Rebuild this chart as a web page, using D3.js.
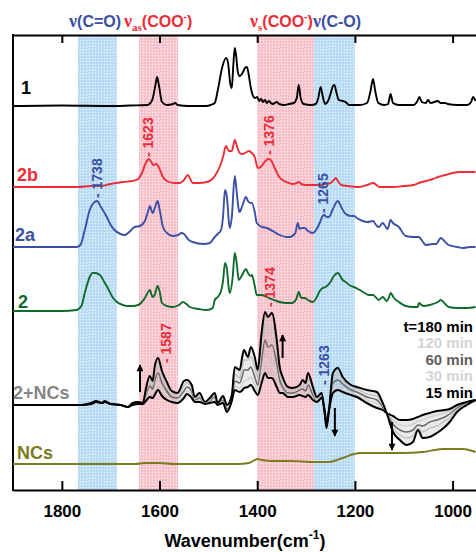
<!DOCTYPE html>
<html>
<head>
<meta charset="utf-8">
<script src="https://cdn.jsdelivr.net/npm/d3@7"></script>
<style>
  body { margin: 0; background: #fff; }
  text { font-family: "Liberation Sans", Arial, sans-serif; font-weight: bold; }
</style>
</head>
<body>
<svg id="chart"></svg>
<script>
var width = 476, height = 552;

// stacked FTIR spectra, [wavenumber, absorbance (a.u.)]
var spec1 = [[1900,0],[1800,0.5],[1700,0],[1660,0.5],[1625,1],[1615,6],[1608,22],[1605,29],[1601,20],[1595,4],[1585,1],[1572,2],[1568,3],[1563,1],[1540,0],[1505,0],[1495,1],[1487,3],[1481,15],[1472,38],[1464,48],[1460,44],[1455,22],[1452,18],[1449,40],[1446,58],[1443,50],[1440,35],[1436,30],[1430,33],[1425,38],[1421,39],[1417,30],[1413,18],[1410,12],[1405,8],[1400,9],[1396,5],[1392,7],[1388,4],[1384,6],[1380,3],[1376,5],[1372,3],[1368,2],[1360,4],[1355,2],[1345,1],[1335,2],[1325,3],[1319,8],[1315,21],[1311,8],[1305,2],[1290,1],[1280,2],[1275,8],[1270,19],[1266,10],[1261,2],[1255,5],[1250,12],[1245,20],[1242,21],[1238,14],[1233,6],[1225,5],[1219,4],[1212,1],[1190,1],[1175,3],[1168,15],[1163,27],[1158,14],[1152,3],[1140,1],[1132,2],[1127,12],[1122,3],[1110,1],[1080,1],[1072,5],[1068,9],[1063,4],[1055,3],[1050,6],[1045,3],[1030,5],[1025,3],[1015,3],[1010,2],[990,1],[970,1],[962,4],[958,9],[953,5]];

var spec2b = [[1900,0],[1800,0],[1767,0],[1740,1],[1722,1],[1700,3],[1675,5],[1655,6],[1644,8],[1636,14],[1628,24],[1622,28],[1617,25],[1612,22],[1606,23],[1600,18],[1593,10],[1585,6],[1570,4],[1558,4],[1550,7],[1542,12],[1537,8],[1532,4],[1520,4],[1503,5],[1492,8],[1483,14],[1477,20],[1470,30],[1464,41],[1458,36],[1452,36],[1446,47],[1441,40],[1436,34],[1430,33],[1421,35],[1417,36],[1411,34],[1405,30],[1399,19],[1393,20],[1385,25],[1378,28],[1372,27],[1365,20],[1355,10],[1345,6],[1335,4],[1327,3],[1320,4],[1315,5],[1310,3],[1300,2],[1280,2],[1270,2],[1262,3],[1250,4],[1243,7],[1239,9],[1235,6],[1228,2],[1215,1],[1192,0],[1175,2],[1162,4],[1156,2],[1150,0],[1120,0],[1100,1],[1080,2],[1069,4],[1055,6],[1040,8],[1030,10],[1015,12],[1000,14],[985,15],[965,15],[953,15]];

var spec2a = [[1900,0],[1800,0],[1770,0],[1762,2],[1753,17],[1743,37],[1735,44],[1728,46],[1720,40],[1708,30],[1700,22],[1692,17],[1680,13],[1671,12],[1662,15],[1651,20],[1640,21],[1630,26],[1622,38],[1620,41],[1614,34],[1609,40],[1604,46],[1600,38],[1593,20],[1585,14],[1573,11],[1562,12],[1555,14],[1550,13],[1540,7],[1532,5],[1510,3],[1497,4],[1487,10],[1481,13],[1474,17],[1470,30],[1466,57],[1462,50],[1458,25],[1456,19],[1452,30],[1446,71],[1442,55],[1438,38],[1436,35],[1430,42],[1423,50],[1419,46],[1413,44],[1411,44],[1405,35],[1401,24],[1390,20],[1380,19],[1365,15],[1354,12],[1340,10],[1333,10],[1322,14],[1317,24],[1313,18],[1309,19],[1303,19],[1296,16],[1286,14],[1276,20],[1272,24],[1266,31],[1262,32],[1258,30],[1253,30],[1245,38],[1235,46],[1228,40],[1219,33],[1208,31],[1202,31],[1196,29],[1184,26],[1174,25],[1163,26],[1155,21],[1151,20],[1143,24],[1138,21],[1133,18],[1127,27],[1122,24],[1110,20],[1096,11],[1080,10],[1069,10],[1062,6],[1055,2],[1040,3],[1034,3],[1024,9],[1015,5],[1008,2],[990,0],[979,-1],[965,0],[953,0]];

var spec2 = [[1900,0],[1800,0],[1770,1],[1760,5],[1753,18],[1743,34],[1737,38],[1732,38],[1722,36],[1712,28],[1706,23],[1695,13],[1687,9],[1675,6],[1667,5],[1655,5],[1644,6],[1636,9],[1630,13],[1622,20],[1620,21],[1614,14],[1610,16],[1604,25],[1600,20],[1595,8],[1585,5],[1573,4],[1560,6],[1552,9],[1545,7],[1538,4],[1520,2],[1503,1],[1491,3],[1487,11],[1481,14],[1474,20],[1470,30],[1466,48],[1462,42],[1458,22],[1456,18],[1450,35],[1446,58],[1442,48],[1438,31],[1432,35],[1423,42],[1419,38],[1413,35],[1411,36],[1405,25],[1401,16],[1391,16],[1376,13],[1360,10],[1354,9],[1340,8],[1329,8],[1320,12],[1315,19],[1311,14],[1307,13],[1303,13],[1296,11],[1286,9],[1278,14],[1272,20],[1266,23],[1260,24],[1250,29],[1243,35],[1235,38],[1225,31],[1219,29],[1208,25],[1202,24],[1190,21],[1180,18],[1172,16],[1163,16],[1151,11],[1143,14],[1135,10],[1130,14],[1127,18],[1120,13],[1110,9],[1096,5],[1081,4],[1071,4],[1069,8],[1060,5],[1047,6],[1030,9],[1024,11],[1015,7],[1008,4],[990,3],[970,3],[953,4]];

var specNCs = [[1900,0],[1800,0],[1700,0],[1650,0],[1630,1],[1600,1],[1570,0],[1500,0],[1440,0],[1417,1],[1399,5],[1390,4],[1370,3],[1330,3],[1285,2],[1253,2],[1225,6],[1202,10],[1190,11],[1174,11],[1102,11],[1061,12],[1020,15],[979,15],[953,12]];

// 2+NCs time series
var ncWn = [1900,1850,1800,1760,1740,1730,1718,1712,1700,1680,1665,1655,1644,1634,1628,1620,1614,1610,1603,1595,1585,1575,1563,1550,1544,1534,1528,1518,1507,1497,1487,1481,1470,1462,1452,1446,1436,1430,1427,1419,1413,1405,1399,1391,1384,1378,1370,1360,1354,1348,1337,1327,1313,1307,1301,1296,1286,1278,1268,1262,1258,1253,1245,1235,1225,1208,1196,1176,1155,1143,1135,1122,1108,1094,1081,1071,1061,1047,1032,1016,1006,991,971,953];
var t15  = [0,0,0,0,1,3,2,3,1,0,-2,0,1,1,4,8,7,10,15,9,5,3,2,7,11,7,3,3,1,2,3,0,2,-7,4,15,13,15,17,18,20,14,10,22,32,27,27,18,12,12,8,8,10,9,8,10,5,3,7,-5,-18,-5,12,15,13,10,8,2,-3,-5,-8,-11,-15,-15,-14,-12,-10,-8,-6,-5,-4,0,3,5];
var t30  = [0,0,0,0,1,3,2,3,1,0,-2,1,2,1,7,13,11,16,23,15,9,5,4,10,14,10,4,5,1,3,5,0,3,-6,4,19,17,21,24,25,28,20,14,32,46,40,40,28,18,14,10,9,11,12,10,14,7,3,7,-6,-19,-5,16,19,16,12,10,5,1,-4,-8,-15,-20,-21,-19,-16,-15,-12,-10,-8,-6,-1,3,5];
var t60  = [0,0,0,0,2,3,2,3,1,0,-2,1,3,2,10,19,16,24,32,22,14,8,7,14,18,13,5,7,2,4,8,1,5,-4,5,24,22,30,35,35,38,28,20,45,65,58,60,42,25,18,12,12,15,16,14,20,10,4,8,-7,-20,-5,22,25,21,15,13,8,5,-2,-8,-19,-25,-27,-25,-20,-21,-17,-15,-12,-9,-3,2,5];
var t120 = [0,0,0,0,2,3,2,3,1,0,-2,2,3,2,13,24,20,31,40,28,18,11,9,19,22,16,6,9,2,5,10,1,7,-2,8,31,27,40,45,45,48,38,28,58,82,75,78,55,32,22,15,14,17,20,18,26,14,5,10,-8,-21,-5,27,31,25,17,16,11,9,0,-8,-23,-30,-33,-31,-23,-27,-23,-21,-16,-13,-5,1,5];
var t180 = [0,0,0,0,2,4,2,4,1,0,-2,2,3,2,16,29,24,38,47,34,23,14,12,24,25,20,8,12,3,7,12,2,9,0,10,38,35,50,55,48,58,48,35,72,93,88,92,65,38,28,18,17,20,25,22,32,18,8,12,-8,-23,-5,32,37,28,20,18,15,13,2,-8,-27,-35,-40,-37,-25,-33,-32,-28,-22,-17,-7,0,5];

var timeLabels = ["t=180 min", "120 min", "60 min", "30 min", "15 min"];
var tickValues = [1800, 1600, 1400, 1200, 1000];

// vertical stacking offsets (a.u.)
var stackOffset = { s1: 384, s2b: 303, s2a: 243, s2: 179, nc: 85, ncs: 26 };

// assignment bands [from, to]
var bands = [
  {from: 1767, to: 1687, kind: "blue"},
  {from: 1642, to: 1562, kind: "pink"},
  {from: 1400, to: 1284, kind: "pink"},
  {from: 1284, to: 1200, kind: "blue"}
];

var peakLabels = [
  {text: "- 1738", wn: 1728, v: 292, c: "blue"},
  {text: "- 1623", wn: 1623, v: 333, c: "red"},
  {text: "- 1376", wn: 1376, v: 335, c: "red"},
  {text: "- 1265", wn: 1265, v: 277, c: "blue"},
  {text: "- 1587", wn: 1587, v: 127, c: "red"},
  {text: "- 1374", wn: 1374, v: 183, c: "red"},
  {text: "- 1263", wn: 1263, v: 105, c: "blue"}
];

// arrows: wavenumber, from, to
var arrows = [[1640, 98, 125], [1348, 132, 155], [1241, 82, 54], [1124, 68, 40]];

var RED = "#ec2d38", BLUE = "#3b4fa5", GREEN = "#0f6a2c", OLIVE = "#7b7b20", GRAY = "#858585";
var colorOf = { red: RED, blue: BLUE };

var svg = d3.select("#chart").attr("width", width).attr("height", height);

var x = d3.scaleLinear().domain([1900, 950]).range([13, 477]);
var y = d3.scaleLinear().domain([0, 455]).range([490, 35]);

var defs = svg.append("defs");
function makePattern(id, base, dark, light) {
  var p = defs.append("pattern").attr("id", id).attr("width", 3).attr("height", 3)
    .attr("patternUnits", "userSpaceOnUse");
  p.append("rect").attr("width", 3).attr("height", 3).attr("fill", base);
  p.append("rect").attr("width", 1).attr("height", 1).attr("fill", dark);
  p.append("rect").attr("x", 2).attr("y", 1).attr("width", 1).attr("height", 1).attr("fill", light);
  p.append("rect").attr("x", 1).attr("y", 2).attr("width", 1).attr("height", 1).attr("fill", dark);
}
makePattern("pblue", "#c3e1f6", "#a9d2ef", "#e2f0fa");
makePattern("ppink", "#f9cbd3", "#f3b1bd", "#fde5e9");

// arrow head pointing along the line direction
defs.append("marker").attr("id", "ah").attr("viewBox", "0 0 10 10")
  .attr("refX", 9).attr("refY", 5).attr("markerWidth", 10).attr("markerHeight", 7)
  .attr("markerUnits", "userSpaceOnUse").attr("orient", "auto")
  .append("path").attr("d", "M0,0 L10,5 L0,10 Z").attr("fill", "#000");

// bands
svg.append("g").selectAll("rect").data(bands).enter().append("rect")
  .attr("x", d => x(d.from)).attr("width", d => x(d.to) - x(d.from))
  .attr("y", y(455)).attr("height", y(0) - y(455))
  .attr("fill", d => d.kind == "blue" ? "url(#pblue)" : "url(#ppink)");

// axes
var bottom = svg.append("g").attr("transform", "translate(0," + y(0) + ")")
  .call(d3.axisBottom(x).tickValues(tickValues).tickFormat(d3.format("d"))
    .tickSizeInner(-9).tickSizeOuter(0).tickPadding(15));
bottom.selectAll("text").attr("font-size", 17).attr("fill", "#000");
var top = svg.append("g").attr("transform", "translate(0," + y(455) + ")")
  .call(d3.axisTop(x).tickValues(tickValues).tickSizeInner(-8).tickSizeOuter(0).tickFormat(""));
svg.selectAll(".domain").attr("stroke-width", 2);
svg.selectAll(".tick line").attr("stroke-width", 2);
svg.append("line").attr("x1", 13).attr("x2", 13).attr("y1", y(455) - 1).attr("y2", y(0) + 1)
  .attr("stroke", "#000").attr("stroke-width", 2);

function lineFor(off) {
  return d3.line().x(d => x(d[0])).y(d => y(d[1] + off)).curve(d3.curveMonotoneX);
}

var spectra = [
  {data: spec1, off: stackOffset.s1, c: "#000"},
  {data: spec2b, off: stackOffset.s2b, c: RED},
  {data: spec2a, off: stackOffset.s2a, c: BLUE},
  {data: spec2, off: stackOffset.s2, c: GREEN},
  {data: specNCs, off: stackOffset.ncs, c: OLIVE}
];
spectra.forEach(function(s) {
  svg.append("path").attr("d", lineFor(s.off)(s.data))
    .attr("fill", "none").attr("stroke", s.c).attr("stroke-width", 1.9)
    .attr("stroke-linejoin", "round");
});

// 2+NCs time-resolved set
var ncSets = [t15, t30, t60, t120, t180].map(function(arr) {
  return ncWn.map((w, i) => [w, arr[i]]);
});
var ncArea = d3.area().x(d => x(d[0]))
  .y0((d, i) => y(t15[i] + stackOffset.nc)).y1(d => y(d[1] + stackOffset.nc))
  .curve(d3.curveMonotoneX);
svg.append("path").attr("d", ncArea(ncSets[4])).attr("fill", "#8a8a8a").attr("fill-opacity", 0.18);
var ncStyle = [
  {i: 1, c: "#d2d2d2", w: 1.5},
  {i: 2, c: "#6a6a6a", w: 1.5},
  {i: 3, c: "#c4c4c4", w: 1.5},
  {i: 0, c: "#000", w: 2},
  {i: 4, c: "#000", w: 2}
];
ncStyle.forEach(function(s) {
  svg.append("path").attr("d", lineFor(stackOffset.nc)(ncSets[s.i]))
    .attr("fill", "none").attr("stroke", s.c).attr("stroke-width", s.w)
    .attr("stroke-linejoin", "round");
});

// arrows
svg.append("g").selectAll("line").data(arrows).enter().append("line")
  .attr("x1", d => x(d[0])).attr("x2", d => x(d[0]))
  .attr("y1", d => y(d[1])).attr("y2", d => y(d[2]))
  .attr("stroke", "#000").attr("stroke-width", 2).attr("marker-end", "url(#ah)");

// peak labels (rotated)
svg.append("g").selectAll("text").data(peakLabels).enter().append("text")
  .attr("transform", d => "translate(" + (x(d.wn) + 5) + "," + y(d.v) + ") rotate(-90)")
  .attr("font-size", 14).attr("fill", d => colorOf[d.c]).text(d => d.text);

// series names
var names = [
  {t: "1", x: 21, y: 94, c: "#000"},
  {t: "2b", x: 17, y: 181, c: RED},
  {t: "2a", x: 15, y: 241, c: BLUE},
  {t: "2", x: 18, y: 308, c: GREEN},
  {t: "2+NCs", x: 13, y: 399, c: GRAY},
  {t: "NCs", x: 17, y: 459, c: OLIVE}
];
svg.append("g").selectAll("text").data(names).enter().append("text")
  .attr("x", d => d.x).attr("y", d => d.y).attr("font-size", 18)
  .attr("fill", d => d.c).text(d => d.t);

// time legend
var timeColors = ["#000", "#d4d4d4", "#606060", "#d4d4d4", "#000"];
svg.append("g").selectAll("text").data(timeLabels).enter().append("text")
  .attr("x", 473).attr("y", (d, i) => 332 + i * 16.4).attr("text-anchor", "end")
  .attr("font-size", 15).attr("fill", (d, i) => timeColors[i]).text(d => d);

// band headers
function header(xPos, color, nu, sub, body, sup, tail) {
  var t = svg.append("text").attr("x", xPos).attr("y", 27).attr("font-size", 16).attr("fill", color);
  t.append("tspan").attr("font-family", "Liberation Serif, serif").attr("font-size", 18).text(nu);
  if (sub) t.append("tspan").attr("font-family", "Liberation Serif, serif").attr("font-size", 11).attr("dy", 4).text(sub);
  t.append("tspan").attr("dy", sub ? -4 : 0).text(body);
  if (sup) {
    t.append("tspan").attr("font-size", 10).attr("dy", -7).text(sup);
    t.append("tspan").attr("dy", 7).text(tail);
  } else if (tail) t.append("tspan").text(tail);
}
header(69, BLUE, "ν", null, "(C=O)", null, null);
header(124, RED, "ν", "as", "(COO", "-", ")");
header(250, RED, "ν", "s", "(COO", "-", ")");
header(313, BLUE, "ν", null, "(C-O)", null, null);

// x-axis title
var xt = svg.append("text").attr("x", 245).attr("y", 547).attr("text-anchor", "middle")
  .attr("font-size", 18).attr("fill", "#000");
xt.append("tspan").text("Wavenumber(cm");
xt.append("tspan").attr("font-size", 12).attr("dy", -8).text("-1");
xt.append("tspan").attr("dy", 8).text(")");
</script>
</body>
</html>
